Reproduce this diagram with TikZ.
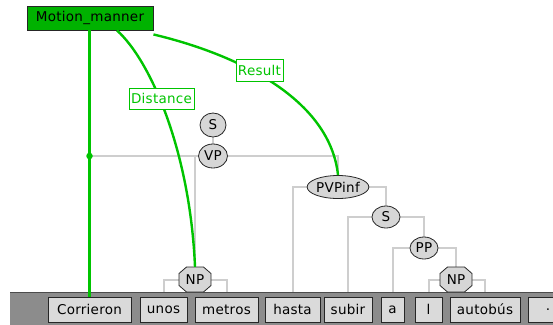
\documentclass[tikz,border=0pt]{standalone}
\usepackage{fontspec}
\newfontfamily\uifont[LetterSpace=2]{DejaVu Sans}
\usetikzlibrary{shapes.geometric}
\definecolor{linkgreen}{RGB}{0,196,0}
\definecolor{framegreen}{RGB}{0,178,0}
\definecolor{treegray}{RGB}{206,206,206}
\definecolor{nodegray}{RGB}{214,214,214}
\definecolor{barfill}{RGB}{140,140,140}
\definecolor{wordfill}{RGB}{218,218,218}
\pgfdeclarelayer{lines}
\pgfdeclarelayer{bar}
\pgfsetlayers{lines,bar,main}
\tikzset{
  uitext/.style={font=\uifont\fontsize{13.5}{14}\selectfont},
  frame/.style={uitext, draw=black!85, fill=framegreen, line width=0.9pt,
    inner sep=0pt, minimum width=126, minimum height=24, text=black},
  rolelabel/.style={uitext, draw=linkgreen, fill=white, text=linkgreen,
    line width=0.9pt, inner sep=0pt, minimum height=21},
  phrase/.style={uitext, ellipse, draw=black!85, fill=nodegray, line width=0.8pt,
    inner sep=0pt},
  npnode/.style={uitext, inner sep=0pt, minimum width=32, minimum height=25},
  npshape/.style={draw=black!85, fill=nodegray, line width=0.8pt},
  wordbox/.style={uitext, draw=black!85, fill=wordfill, line width=0.8pt,
    inner sep=0pt, minimum height=25},
  treeline/.style={draw=treegray, line width=2pt},
  greenlink/.style={draw=linkgreen, line width=2.4pt},
  junction/.style={circle, fill=linkgreen, inner sep=0pt, minimum size=6.5},
}
% octagonal NP node: outline first, then the named text node on top
\newcommand\npbox[3]{%
  \filldraw[npshape] (#2-16,#3-6) -- (#2-8.5,#3-12.5) -- (#2+8.5,#3-12.5)
    -- (#2+16,#3-6) -- (#2+16,#3+6) -- (#2+8.5,#3+12.5) -- (#2-8.5,#3+12.5)
    -- (#2-16,#3+6) -- cycle;
  \node[npnode] (#1) at (#2,#3) {NP};}
\begin{document}
\begin{tikzpicture}[x=1pt,y=-1pt]
\useasboundingbox (0,0) rectangle (553,324);

% word strip along the bottom
\begin{pgfonlayer}{bar}
  \fill[barfill] (10,292) rectangle (570,330);
  \draw[black!70, line width=1pt] (10,292.5) -- (570,292.5);
\end{pgfonlayer}

% words
\node[wordbox, minimum width=83] (Corrieron) at (89.5,309.5) {Corrieron};
\node[wordbox, minimum width=47] (unos) at (163.5,309.5) {unos};
\node[wordbox, minimum width=63] (metros) at (226.5,309.5) {metros};
\node[wordbox, minimum width=55] (hasta) at (292.5,309.5) {hasta};
\node[wordbox, minimum width=48] (subir) at (348,309.5) {subir};
\node[wordbox, minimum width=23] (a) at (392.5,309.5) {a};
\node[wordbox, minimum width=27] (l) at (428.5,309.5) {l};
\node[wordbox, minimum width=70] (autobus) at (485,309.5) {autobús};
\node[wordbox, minimum width=40] (stop) at (548,309.5) {.};

% phrase structure
\node[phrase, minimum width=26, minimum height=24] (S1) at (213,125) {S};
\node[phrase, minimum width=29, minimum height=24] (VP) at (213,156) {VP};
\node[phrase, minimum width=56, minimum height=23] (PVPinf) at (338,187) {PVPinf};
\node[phrase, minimum width=28, minimum height=22] (S2) at (386,217) {S};
\node[phrase, minimum width=28, minimum height=22] (PP) at (424,248) {PP};
\npbox{NP1}{195}{279.5}
\npbox{NP2}{456}{279.5}

\begin{pgfonlayer}{lines}
  \draw[treeline] (S1) -- (VP);
  \draw[treeline] (VP) -| (Corrieron);
  \draw[treeline] (VP) -| (NP1);
  \draw[treeline] (VP) -| (PVPinf);
  \draw[treeline] (NP1) -| (unos);
  \draw[treeline] (NP1) -| (metros);
  \draw[treeline] (PVPinf) -| (hasta);
  \draw[treeline] (PVPinf) -| (S2);
  \draw[treeline] (S2) -| (subir);
  \draw[treeline] (S2) -| (PP);
  \draw[treeline] (PP) -| (a);
  \draw[treeline] (PP) -| (NP2);
  \draw[treeline] (NP2) -| (l);
  \draw[treeline] (NP2) -| (autobus);
\end{pgfonlayer}

% frame and its frame elements
\node[frame] (Motion) at (90,18) {Motion\_manner};

\draw[greenlink] (Motion.south -| Corrieron.north) -- (Corrieron.north);
\node[junction] (target) at (Corrieron.north |- VP) {};

\draw[greenlink] ([xshift=27pt]Motion.south)
  .. controls (150,60) and (190,150) .. (NP1.north);
\draw[greenlink] ([yshift=-4pt]Motion.south east)
  .. controls (240,55) and (330,100) .. (PVPinf.north);

\node[rolelabel, minimum width=65] (distance) at (161.5,98.5) {Distance};
\node[rolelabel, minimum width=47, minimum height=22] (result) at (259.5,70) {Result};
\end{tikzpicture}
\end{document}
